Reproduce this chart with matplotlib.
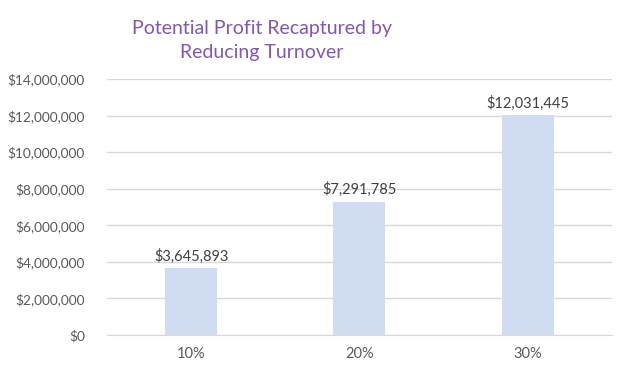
import matplotlib
matplotlib.use("Agg")
import matplotlib.pyplot as plt
from matplotlib.ticker import FuncFormatter

# DATA
categories = ["10%", "20%", "30%"]
profit = [3645893, 7291785, 12031445]
y_ticks = [0, 2000000, 4000000, 6000000, 8000000, 10000000, 12000000, 14000000]

plt.rcParams['font.family'] = ['Lato', 'DejaVu Sans']

fig = plt.figure(figsize=(6.3, 3.72), dpi=100)
ax = fig.add_axes([0.170, 0.0995, 0.801, 0.688])

x = range(len(categories))
bars = ax.bar(x, profit, width=0.31, color='#CFDCF2', zorder=3)

for rect, v in zip(bars, profit):
    ax.text(rect.get_x() + rect.get_width() / 2, v + 250000, "${:,}".format(v),
            ha='center', va='bottom', fontsize=10.5, color='#404040')

ax.set_xlim(-0.5, len(categories) - 0.5)
ax.set_ylim(0, 14000000)
ax.set_yticks(y_ticks)
ax.yaxis.set_major_formatter(FuncFormatter(lambda v, p: "${:,.0f}".format(v)))
ax.set_xticks(list(x))
ax.set_xticklabels(categories)
ax.tick_params(axis='both', length=0, labelsize=10.5, colors='#595959')
ax.tick_params(axis='y', labelsize=9.8, pad=16)
ax.tick_params(axis='x', pad=9)
ax.grid(axis='y', color='#D9D9D9', linewidth=1, zorder=0)
for s in ['top', 'right', 'left']:
    ax.spines[s].set_visible(False)
ax.spines['bottom'].set_color('#D9D9D9')

fig.text(0.416, 0.89, "Potential Profit Recaptured by\nReducing Turnover", ha='center', va='center',
         fontsize=14, color='#8257B3', linespacing=1.5)

fig.savefig("out.png", dpi=100)
